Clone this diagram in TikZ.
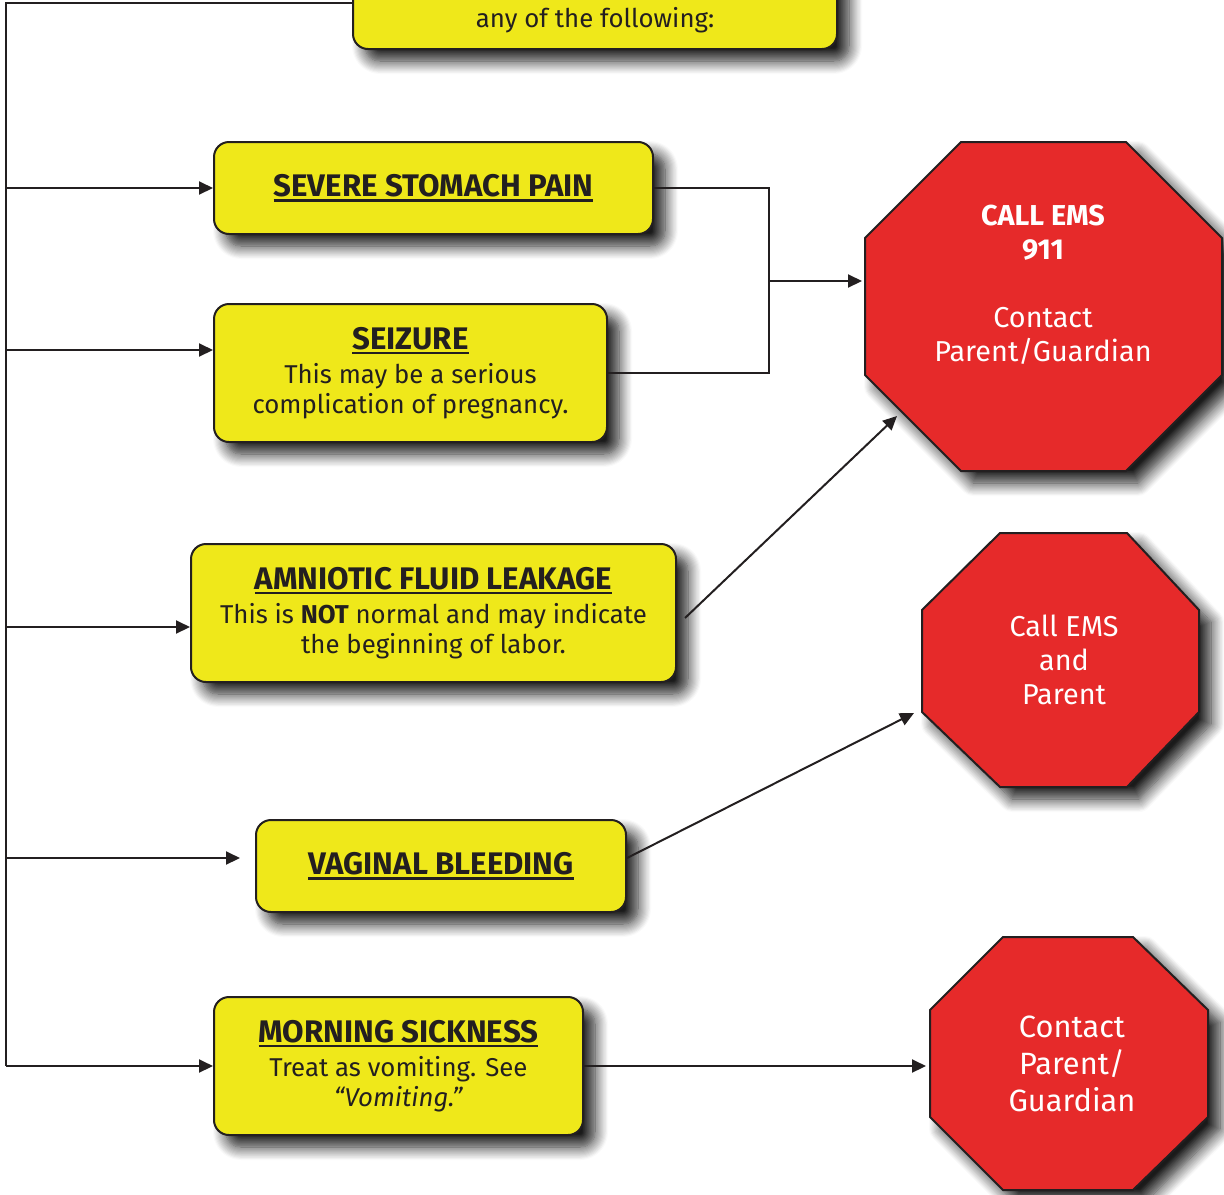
\documentclass[tikz,border=0pt]{standalone}
\usepackage{fontspec}
\setmainfont{Fira Sans}
\usetikzlibrary{arrows.meta,shadows.blur}
\definecolor{ink}{HTML}{231F20}
\definecolor{boxyellow}{HTML}{EFE81A}
\definecolor{stopred}{HTML}{E62A2A}
\newcommand\myul[1]{{\setbox0\hbox{#1}\rlap{\rule[-2.5pt]{\wd0}{1.3pt}}\box0}}
\newcommand\ttl[1]{{\fontsize{15.6}{18}\selectfont\bfseries\myul{#1}}}
\tikzset{
  shd/.style={blur shadow={shadow xshift=6pt,shadow yshift=-6pt,shadow blur radius=6.5pt,shadow blur steps=12,shadow opacity=90}},
  ybox/.style={draw=ink,line width=1pt,fill=boxyellow,rounded corners=7.5pt,inner sep=0pt,align=center,text=ink,
     font=\fontsize{12.9}{15}\selectfont,shd},
  oct/.style={draw=ink,line width=1pt,fill=stopred,shd},
  octtext/.style={text=white,align=center,inner sep=0pt},
  conn/.style={draw=ink,line width=1pt},
  arr/.style={conn,-{Triangle[length=7pt,width=6.5pt]}}
}
\begin{document}
\begin{tikzpicture}[x=0.5pt,y=-0.5pt]
\useasboundingbox (0,0) rectangle (1224,1194);
% top box (cut off)
\node[ybox,minimum width=242pt,minimum height=60pt] (topbox) at (595,-11) {};
\node[text=ink,inner sep=0pt,font=\fontsize{12.9}{15}\selectfont,anchor=base] (toptext) at (595,27) {any of the following:};
% symptom boxes
\node[ybox,minimum width=219.5pt,minimum height=46pt] (pain) at (433.5,188) {\ttl{SEVERE STOMACH PAIN}};
\node[ybox,minimum width=196.5pt,minimum height=69pt] (seiz) at (410.5,373) {\ttl{SEIZURE}\\[2pt]This may be a serious\\complication of pregnancy.};
\node[ybox,minimum width=242.5pt,minimum height=69pt] (amn) at (433.5,613) {\ttl{AMNIOTIC FLUID LEAKAGE}\\[2pt]This is \textbf{NOT} normal and may indicate\\the beginning of labor.};
\node[ybox,minimum width=185pt,minimum height=46pt] (vag) at (441,866) {\ttl{VAGINAL BLEEDING}};
\node[ybox,minimum width=184.5pt,minimum height=69pt] (morn) at (398.5,1066) {\ttl{MORNING SICKNESS}\\[2pt]Treat as vomiting. See\\\textit{“Vomiting.”}};
% octagons
\path[oct] (961,142) -- (1126,142) -- (1222,238) -- (1222,375) -- (1126,471) -- (961,471) -- (865,375) -- (865,238) -- cycle;
\path[oct] (1000,533) -- (1127,533) -- (1199,610) -- (1199,712) -- (1127,787) -- (1000,787) -- (922,712) -- (922,610) -- cycle;
\path[oct] (1003,937) -- (1133,937) -- (1208,1010) -- (1208,1117) -- (1133,1190) -- (1003,1190) -- (930,1117) -- (930,1010) -- cycle;
\node[octtext,font=\fontsize{14.4}{17}\selectfont] (ems1) at (1043,285) {\textbf{CALL EMS}\\\textbf{911}\\[17pt]Contact\\Parent/Guardian};
\node[octtext,font=\fontsize{14.4}{17}\selectfont] (ems2) at (1064,660) {Call EMS\\and\\Parent};
\node[octtext,font=\fontsize{15.4}{18.5}\selectfont] (par) at (1072,1064) {Contact\\Parent/\\Guardian};
% anchor points on octagons
\coordinate (o1w) at (862,281);
\coordinate (o1sw) at (897,416);
\coordinate (o2sw) at (914,713);
\coordinate (o3w) at (926,1066);
% trunk
\coordinate (ttop) at (6,3);
\coordinate (t1) at (6,188);
\coordinate (t2) at (6,350);
\coordinate (t3) at (6,627);
\coordinate (t4) at (6,858);
\coordinate (t5) at (6,1066);
\draw[conn] (topbox.west |- ttop) -- (ttop) -- (t5);
\draw[arr] (t1) -- (pain.west |- t1);
\draw[arr] (t2) -- (seiz.west |- t2);
\draw[arr] (t3) -- (amn.west |- t3);
\draw[arr] (t4) -- ([xshift=-7.5pt]vag.west |- t4);
\draw[arr] (t5) -- (morn.west);
% right side
\coordinate (jx) at (769,281);
\draw[conn] (pain.east) -| (jx) |- (seiz.east);
\draw[arr] (jx) -- (o1w);
\draw[arr] ([xshift=4pt,yshift=-2.5pt]amn.east) -- (o1sw);
\draw[arr] ([yshift=4pt]vag.east) -- (o2sw);
\draw[arr] (morn.east) -- (o3w);
\end{tikzpicture}
\end{document}
